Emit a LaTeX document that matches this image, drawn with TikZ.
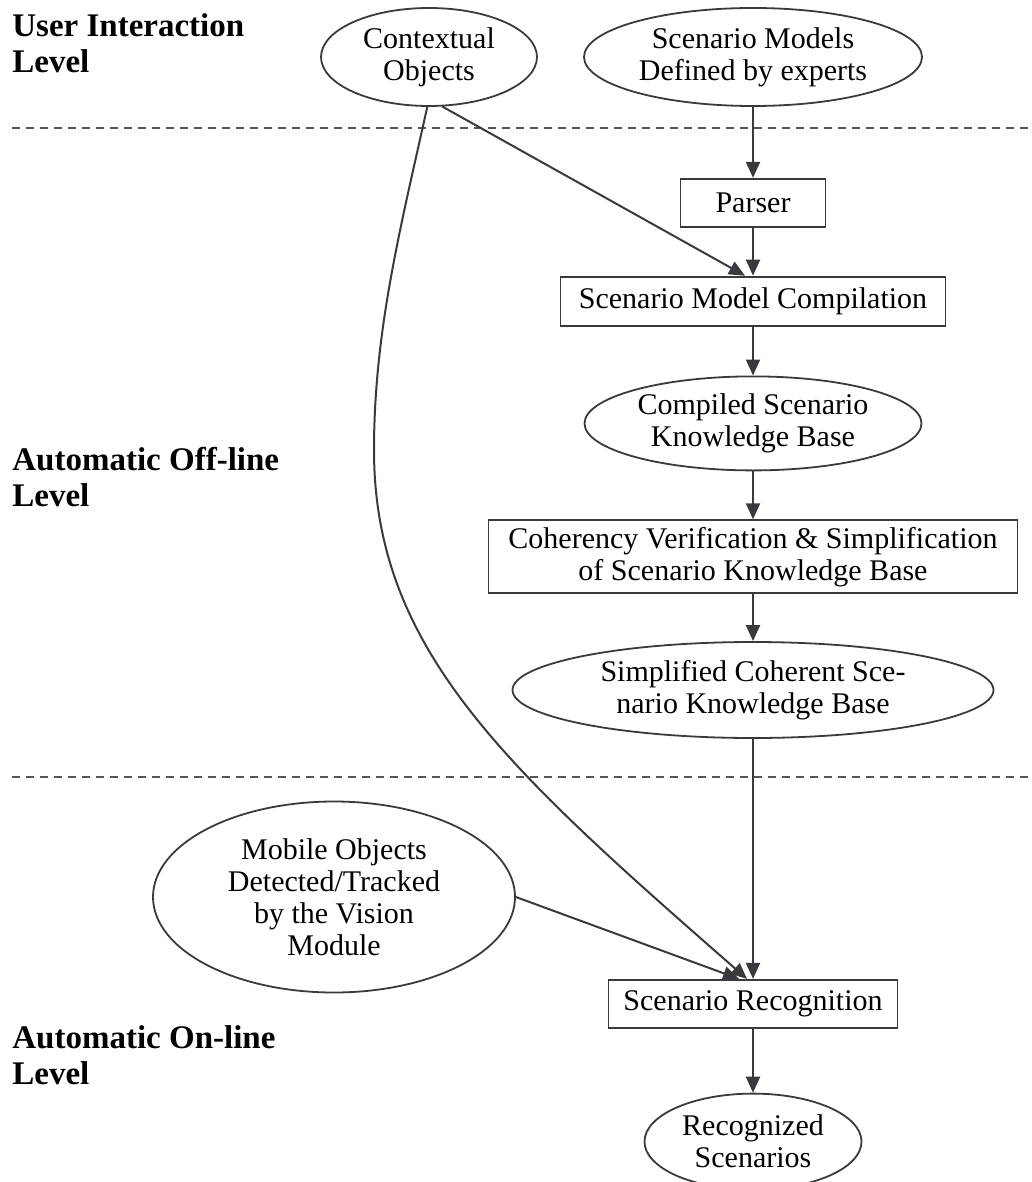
\documentclass[tikz,border=0pt]{standalone}
\usepackage{fontspec}
\setmainfont{Liberation Serif}
\usepackage{xcolor}
\usepackage{tikz}
\usetikzlibrary{shapes.geometric, arrows.meta, positioning}

\definecolor{linegray}{RGB}{58,58,62}
\definecolor{dashgray}{RGB}{85,85,88}

\begin{document}
\begin{tikzpicture}[
    x=0.5pt, y=-0.5pt,
    every node/.style={font=\fontsize{15}{16}\selectfont, text=black},
    oval/.style={ellipse, draw=linegray, line width=0.9pt, align=center, inner sep=0pt},
    proc/.style={rectangle, draw=linegray, line width=0.9pt, align=center, inner sep=2pt},
    level/.style={anchor=north west, align=left, inner sep=0pt, font=\fontsize{16.5}{18}\selectfont\bfseries},
    sep/.style={dashgray, line width=0.9pt, dash pattern=on 4pt off 3pt},
    arrow/.style={line width=1pt, draw=linegray, -{Triangle[length=8pt, width=7pt]}}
]
\useasboundingbox (0,0) rectangle (1032,1182);

% levels
\node[level] (userlvl) at (12,13) {User Interaction\\Level};
\node[level] (offlvl) at (12,447) {Automatic Off-line\\Level};
\node[level] (onlvl) at (12,1025) {Automatic On-line\\Level};

\draw[sep] (12,128) -- (1032,128);
\draw[sep] (12,777) -- (1032,777);

\node[oval, minimum width=108pt, minimum height=49pt] (context) at (429,57) {Contextual\\Objects};
\node[oval, minimum width=169pt, minimum height=49pt] (models) at (753,57) {Scenario Models\\Defined by experts};
\node[proc, minimum width=72.5pt, minimum height=24pt, below=35.5pt of models] (parser) {Parser};
\node[proc, minimum width=192.5pt, minimum height=24.5pt, below=24pt of parser] (smc) {Scenario Model Compilation};
\node[oval, minimum width=168.5pt, minimum height=47pt, below=24.5pt of smc] (compiled) {Compiled Scenario\\Knowledge Base};
\node[proc, minimum width=264.5pt, minimum height=36.5pt, below=24pt of compiled] (coherency) {Coherency Verification \& Simplification\\of Scenario Knowledge Base};
\node[oval, minimum width=240.5pt, minimum height=48pt, below=23.5pt of coherency] (simplified) {Simplified Coherent Sce-\\nario Knowledge Base};
\node[proc, minimum width=144.5pt, minimum height=24pt, below=120pt of simplified] (recog) {Scenario Recognition};
\node[oval, minimum width=108.5pt, minimum height=48pt, below=32pt of recog] (result) {Recognized\\Scenarios};
\node[oval, minimum width=181pt, minimum height=95.5pt] (mobile) at (334,897) {Mobile Objects\\Detected/Tracked\\by the Vision\\Module};

\coordinate (bend) at (374,450);

\draw[arrow] (models) -- (parser);
\draw[arrow] (parser) -- (smc);
\draw[arrow] (context.-75) -- ([xshift=-4pt]smc.north);
\draw[arrow] (smc) -- (compiled);
\draw[arrow] (compiled) -- (coherency);
\draw[arrow] (coherency) -- (simplified);
\draw[arrow] (simplified) -- (recog);
\draw[arrow] (context.-92) .. controls (401,226) and (374,330) .. (bend)
    .. controls (374,650) and (507,769) .. ([xshift=-3pt]recog.north);
\draw[arrow] (mobile.east) -- ([xshift=-7pt]recog.north);
\draw[arrow] (recog) -- (result);

\end{tikzpicture}
\end{document}
